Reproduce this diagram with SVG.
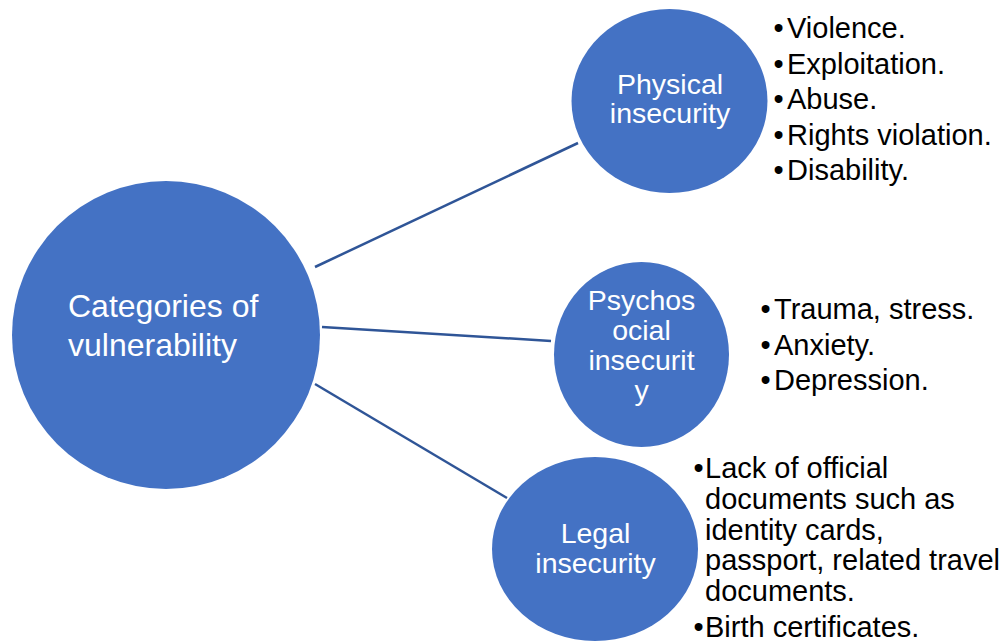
<svg xmlns="http://www.w3.org/2000/svg" width="1006" height="643" viewBox="0 0 1006 643">
<style>
.node{fill:#4472C4;}
.lbl{fill:#FFFFFF;font-family:"Liberation Sans",Arial,sans-serif;}
.list{fill:#000000;font-family:"Liberation Sans",Arial,sans-serif;font-size:29px;}
.conn{stroke:#2F5597;stroke-width:2.5;fill:none;}
</style>
<rect width="1006" height="643" fill="#FFFFFF"/>
<g id="connectors">
<line class="conn" x1="315" y1="267" x2="578" y2="143"/>
<line class="conn" x1="322" y1="327" x2="551" y2="341"/>
<line class="conn" x1="315" y1="384" x2="507" y2="498"/>
</g>
<g id="node-categories">
<circle class="node" cx="166" cy="335" r="154"/>
<text class="lbl" font-size="32" x="68" y="317">Categories of</text>
<text class="lbl" font-size="32" x="68" y="356">vulnerability</text>
</g>
<g id="node-physical">
<ellipse class="node" cx="669.5" cy="101" rx="98" ry="92"/>
<text class="lbl" font-size="28.5" text-anchor="middle" x="670" y="94">Physical</text>
<text class="lbl" font-size="28.5" text-anchor="middle" x="670" y="123">insecurity</text>
</g>
<g id="node-psychosocial">
<ellipse class="node" cx="641.5" cy="354.5" rx="87.5" ry="92.5"/>
<text class="lbl" font-size="28.5" text-anchor="middle" x="641.5" y="310">Psychos</text>
<text class="lbl" font-size="28.5" text-anchor="middle" x="641.5" y="340">ocial</text>
<text class="lbl" font-size="28.5" text-anchor="middle" x="641.5" y="370">insecurit</text>
<text class="lbl" font-size="28.5" text-anchor="middle" x="641.5" y="400">y</text>
</g>
<g id="node-legal">
<ellipse class="node" cx="595" cy="549" rx="103" ry="92"/>
<text class="lbl" font-size="28.5" text-anchor="middle" x="595.5" y="543">Legal</text>
<text class="lbl" font-size="28.5" text-anchor="middle" x="595.5" y="573">insecurity</text>
</g>
<g id="list-physical" class="list">
<text x="773.5" y="38">•</text><text x="787" y="38">Violence.</text>
<text x="773.5" y="73.5">•</text><text x="787" y="73.5">Exploitation.</text>
<text x="773.5" y="109">•</text><text x="787" y="109">Abuse.</text>
<text x="773.5" y="145">•</text><text x="787" y="145">Rights violation.</text>
<text x="773.5" y="180">•</text><text x="787" y="180">Disability.</text>
</g>
<g id="list-psychosocial" class="list">
<text x="760.5" y="319">•</text><text x="774" y="319">Trauma, stress.</text>
<text x="760.5" y="355">•</text><text x="774" y="355">Anxiety.</text>
<text x="760.5" y="390">•</text><text x="774" y="390">Depression.</text>
</g>
<g id="list-legal" class="list">
<text x="693.5" y="478">•</text><text x="705" y="478">Lack of official</text>
<text x="705" y="509">documents such as</text>
<text x="705" y="539.5">identity cards,</text>
<text x="705" y="570">passport, related travel</text>
<text x="705" y="600.5">documents.</text>
<text x="693.5" y="636.5">•</text><text x="705" y="636.5">Birth certificates.</text>
</g>
</svg>
